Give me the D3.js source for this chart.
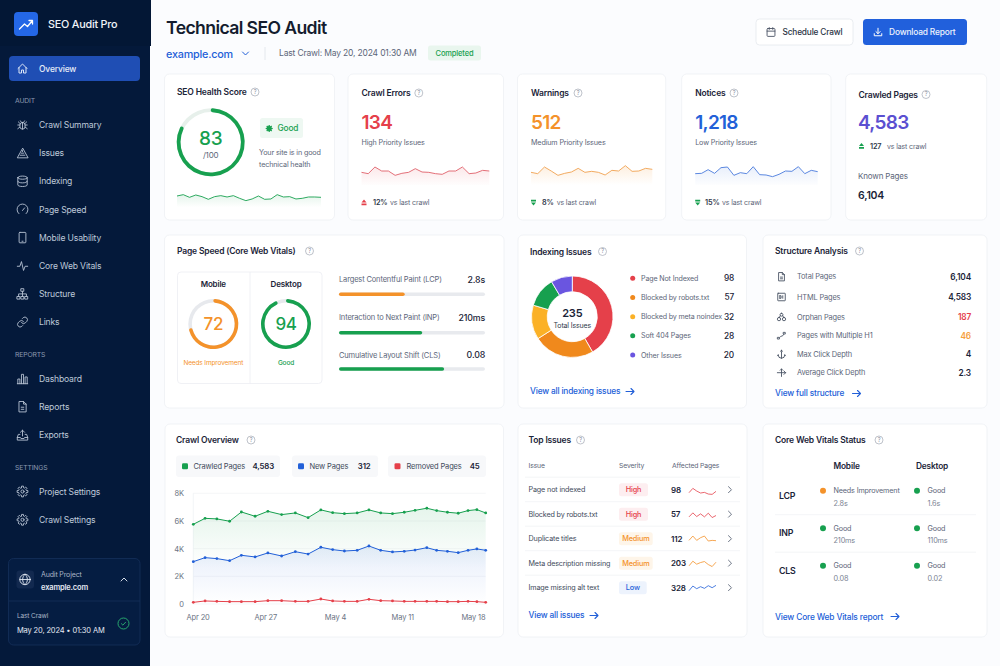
<!DOCTYPE html>
<html>
<head>
<meta charset="utf-8">
<script src="https://cdn.jsdelivr.net/npm/d3@7"></script>
<style>
  html, body { margin: 0; padding: 0; background: #fbfcfe; }
  svg { display: block; font-family: Inter, "Noto Sans", sans-serif; }
  .ic { fill: none; stroke-linecap: round; stroke-linejoin: round; }
</style>
</head>
<body>
<div id="chart"></div>
<script>
// ---- data ----
var navAudit = ["Crawl Summary", "Issues", "Indexing", "Page Speed", "Mobile Usability", "Core Web Vitals", "Structure", "Links"];
var navAuditIcons = ["bug", "warn", "db", "gauge", "phone", "pulse", "tree", "link"];
var navReports = ["Dashboard", "Reports", "Exports"];
var navReportsIcons = ["bars", "file", "export"];
var navSettings = ["Project Settings", "Crawl Settings"];

var healthScore = 83;
var healthSpark = [34, 38, 30, 37, 32, 24, 32, 35, 31, 35, 27, 20, 25, 34, 24, 25, 38, 31, 32, 25, 27, 31, 31, 30];
var errorsSpark = [38, 34, 54, 42, 42, 29, 35, 38, 49, 39, 38, 34, 32, 42, 42, 54, 34, 36, 44, 42];
var warningsSpark = [38, 34, 54, 42, 29, 35, 39, 50, 38, 41, 38, 30, 44, 42, 58, 41, 42, 50, 47];
var noticesSpark = [34, 35, 46, 35, 52, 54, 29, 37, 34, 55, 31, 30, 25, 32, 42, 41, 55, 34, 44, 40];

var speedDevices = ["Mobile", "Desktop"];
var speedScores = [72, 94];
var speedLabels = ["Needs Improvement", "Good"];
var metricNames = ["Largest Contentful Paint (LCP)", "Interaction to Next Paint (INP)", "Cumulative Layout Shift (CLS)"];
var metricValues = ["2.8s", "210ms", "0.08"];
var metricFill = [45, 57, 72];

var indexNames = ["Page Not Indexed", "Blocked by robots.txt", "Blocked by meta noindex", "Soft 404 Pages", "Other Issues"];
var indexCounts = [98, 57, 32, 28, 20];

var structureNames = ["Total Pages", "HTML Pages", "Orphan Pages", "Pages with Multiple H1", "Max Click Depth", "Average Click Depth"];
var structureValues = ["6,104", "4,583", "187", "46", "4", "2.3"];

var crawlDays = [0, 1.2, 2.4, 3.7, 4.9, 6.3, 7.6, 9, 10.4, 11.7, 13, 14.2, 15.4, 16.7, 17.9, 19.1, 20.3, 21.5, 22.6, 23.8, 24.8, 25.9, 27, 28, 28.9, 29.8];
var crawledPages = [5760, 6190, 6150, 5980, 6650, 6340, 6700, 6460, 6580, 6240, 6800, 6600, 6530, 6580, 6800, 6580, 6530, 6630, 6770, 6920, 6750, 6630, 6560, 6750, 6820, 6580];
var newPages = [3060, 3350, 3280, 3130, 3520, 3400, 3690, 3470, 3780, 3610, 4100, 3930, 3830, 3880, 4190, 3880, 3760, 3810, 3900, 4070, 3880, 3810, 3710, 3880, 3980, 3880];
var removedPages = [120, 220, 190, 170, 170, 170, 240, 240, 190, 190, 360, 220, 190, 190, 340, 240, 220, 190, 190, 190, 190, 170, 170, 190, 170, 120];
var crawlTickDays = [0.44, 7.34, 14.44, 21.3, 28.5];
var crawlTickLabels = ["Apr 20", "Apr 27", "May 4", "May 11", "May 18"];
var crawlYTicks = [0, 2000, 4000, 6000, 8000];

var issueNames = ["Page not indexed", "Blocked by robots.txt", "Duplicate titles", "Meta description missing", "Image missing alt text"];
var issueSeverity = ["High", "High", "Medium", "Medium", "Low"];
var issueCounts = [98, 57, 112, 203, 328];
var issueSparks = [
  [6, 19, 11, 5, 7, 2, 1, 10],
  [7, 19, 8, 16, 7, 18, 5, 11],
  [10, 23, 10, 18, 23, 8, 10, 9],
  [7, 21, 12, 17, 20, 11, 5, 18],
  [6, 20, 12, 18, 13, 21, 15, 22]
];

var vitalNames = ["LCP", "INP", "CLS"];
var vitalMobileStatus = ["Needs Improvement", "Good", "Good"];
var vitalMobileValue = ["2.8s", "210ms", "0.08"];
var vitalDesktopStatus = ["Good", "Good", "Good"];
var vitalDesktopValue = ["1.6s", "110ms", "0.02"];

// ---- colours ----
var navy = "#1b2438", grey = "#5c6679", blue = "#2260d8", green = "#17a04f", red = "#e5404a", orange = "#f4922a", purple = "#5b4fd1";
var indexColors = [red, "#f0891c", "#fbb126", green, "#6a55e0"];
var severityColors = { High: [red, "#fdeef0"], Medium: [orange, "#fef5e9"], Low: [blue, "#edf3fd"] };

var svg = d3.select("#chart").append("svg").attr("width", 1000).attr("height", 666);
var defs = svg.append("defs");

function gradient(id, color, top, bottom, endAt) {
  var g = defs.append("linearGradient").attr("id", id).attr("x1", 0).attr("x2", 0).attr("y1", 0).attr("y2", 1);
  g.append("stop").attr("offset", "0%").attr("stop-color", color).attr("stop-opacity", top);
  g.append("stop").attr("offset", (endAt || 100) + "%").attr("stop-color", color).attr("stop-opacity", bottom);
}
gradient("gGreen", green, 0.11, 0);
gradient("gRed", red, 0.12, 0.01);
gradient("gOrange", orange, 0.15, 0);
gradient("gBlue", blue, 0.1, 0.01);
gradient("gAreaGreen", green, 0.11, 0, 62);
gradient("gAreaBlue", blue, 0.11, 0, 100);

// text helper, y is the vertical centre of the text
function label(p, x, y, str, o) {
  o = o || {};
  return p.append("text")
    .attr("x", x).attr("y", y).attr("dy", "0.36em")
    .attr("font-size", o.size || 8)
    .attr("font-weight", o.weight || 400)
    .attr("fill", o.fill || grey)
    .attr("text-anchor", o.anchor || "start")
    .attr("letter-spacing", o.ls || "-0.02em")
    .text(str);
}

function gearPath() {
  var pts = [];
  for (var i = 0; i < 8; i++) {
    var a = i * Math.PI / 4;
    [[-0.26, 7.6], [-0.17, 10.5], [0.17, 10.5], [0.26, 7.6]].forEach(function(q) {
      pts.push([12 + q[1] * Math.sin(a + q[0]), 12 - q[1] * Math.cos(a + q[0])]);
    });
  }
  return d3.line().curve(d3.curveLinearClosed)(pts);
}

var iconPaths = {
  home: "M3 12 12 3l9 9M5 10v11h5v-6h4v6h5V10",
  bug: "M8 4l2 3M16 4l-2 3M12 7a5 5 0 0 0-5 5v3a5 5 0 0 0 10 0v-3a5 5 0 0 0-5-5zM12 7v13M7 12H3M17 12h4M7 16l-4 3M17 16l4 3M7 9 4 6M17 9l3-3",
  warn: "M12 3 2 21h20zM7.5 16h9M9.5 12h5M12 7v2",
  db: "M3 5c0-1.7 4-3 9-3s9 1.3 9 3-4 3-9 3-9-1.3-9-3zM3 5v14c0 1.7 4 3 9 3s9-1.3 9-3V5M3 12c0 1.7 4 3 9 3s9-1.3 9-3",
  gauge: "M5 20a10.5 10.5 0 1 1 14 0M12 14l4-5",
  phone: "M7 2h10a1.5 1.5 0 0 1 1.500 1.500v17a1.500 1.500 0 0 1-1.500 1.500H7a1.500 1.500 0 0 1-1.500-1.500v-17A1.500 1.500 0 0 1 7 2zM11 19h2",
  pulse: "M2 13h5l3-9 4 17 3-8h5",
  tree: "M9.500 2h5v5h-5zM2 17h5v5H2zM9.500 17h5v5h-5zM17 17h5v5h-5zM12 7v10M4.500 17v-5h15v5",
  link: "M10 13a5 5 0 0 0 7.500.5l3-3a5 5 0 0 0-7-7l-1.700 1.700M14 11a5 5 0 0 0-7.500-.5l-3 3a5 5 0 0 0 7 7l1.700-1.700",
  bars: "M2 22h20M3 22v-9h4v9M10 22V4h4v18M17 22V9h4v13",
  file: "M6 2h8l5 5v15H6zM14 2v5h5M9.500 13h5M9.500 17h5",
  export: "M12 14V3M8 7l4-4 4 4M7 11H4l-2 6v5h20v-5l-2-6h-3M2 17h6l1 2h6l1-2h6",
  gear: gearPath() + "M15 12a3 3 0 1 1-6 0 3 3 0 0 1 6 0z",
  globe: "M22 12a10 10 0 1 1-20 0 10 10 0 0 1 20 0zM2 12h20M12 2c3 3 4.500 6 4.500 10S15 19 12 22c-3-3-4.500-6-4.500-10S9 5 12 2z",
  calendar: "M5 4h14a2 2 0 0 1 2 2v14a2 2 0 0 1-2 2H5a2 2 0 0 1-2-2V6a2 2 0 0 1 2-2zM3 10h18M8 2v4M16 2v4",
  download: "M12 3v13M7 11l5 5 5-5M3 16v5h18v-5",
  check: "M7 12.500l3.500 3.500L17 9",
  html: "M4 3h16a1 1 0 0 1 1 1v16a1 1 0 0 1-1 1H4a1 1 0 0 1-1-1V4a1 1 0 0 1 1-1zM8 9v6M8 9h3v6H8M15 9v6",
  orphan: "M12 3a3.500 3.500 0 1 0 0 7 3.500 3.500 0 0 0 0-7zM6 13a4 4 0 1 0 0 8 4 4 0 0 0 0-8zM18 13a4 4 0 1 0 0 8 4 4 0 0 0 0-8zM9 9l-2 4M15 9l2 4",
  multi: "M3 20h4v-4H3zM17 8h4V4h-4zM8 16l3-3h3l3-4",
  depth: "M12 2a2 2 0 1 0 0 4 2 2 0 0 0 0-4zM12 6v15M4 13a8 8 0 0 0 16 0M4 13l-1.500 2M20 13l1.500 2",
  cross: "M2 12h20M18 8l4 4-4 4M12 3v18M9 6l3-3 3 3"
};

function icon(p, name, cx, cy, size, color, sw) {
  return p.append("path").attr("class", "ic")
    .attr("transform", "translate(" + (cx - size / 2) + "," + (cy - size / 2) + ") scale(" + size / 24 + ")")
    .attr("d", iconPaths[name]).attr("stroke", color).attr("stroke-width", (sw || 1) * 24 / size);
}

function help(p, cx, cy) {
  p.append("circle").attr("cx", cx).attr("cy", cy).attr("r", 4).attr("fill", "none").attr("stroke", "#a3a9b5").attr("stroke-width", 0.7);
  label(p, cx, cy, "?", { size: 5.5, fill: "#8b92a0", anchor: "middle" });
}

function arrow(p, x, y, color) {
  p.append("path").attr("class", "ic").attr("stroke", color).attr("stroke-width", 1.1)
    .attr("d", "M" + (x - 4) + " " + y + "h8m-3-3 3 3-3 3");
}

function chevron(p, x, y, color, dir) {
  var d = { right: "m-1.500-3 3 3-3 3", down: "m-3-1.500 3 3 3-3", up: "m-3 1.500 3-3 3 3" }[dir];
  p.append("path").attr("class", "ic").attr("stroke", color).attr("stroke-width", 1).attr("d", "M" + x + " " + y + d);
}

function card(x0, y0, x1, y1) {
  return svg.append("rect").attr("x", x0).attr("y", y0).attr("width", x1 - x0).attr("height", y1 - y0).attr("rx", 5)
    .attr("fill", "#fff").attr("stroke", "#eef0f4").attr("stroke-width", 0.8);
}

function cardTitle(x, y, str, helpX) {
  label(svg, x, y, str, { size: 8.500, weight: 600, fill: navy });
  help(svg, helpX, y);
}

function spark(p, values, x0, x1, yBottom, yTop, domainMax, color, fillId, sw) {
  var x = d3.scaleLinear().domain([0, values.length - 1]).range([x0, x1]);
  var y = d3.scaleLinear().domain([0, domainMax]).range([yBottom, yTop]);
  if (fillId) {
    p.append("path").attr("fill", "url(#" + fillId + ")")
      .attr("d", d3.area().x(function(d, i) { return x(i); }).y0(yBottom).y1(function(d) { return y(d); })(values));
  }
  p.append("path").attr("fill", "none").attr("stroke", color).attr("stroke-width", sw || 0.9).attr("stroke-linejoin", "round")
    .attr("d", d3.line().x(function(d, i) { return x(i); }).y(function(d) { return y(d); })(values));
}

function gauge(p, cx, cy, r, w, value, color, track) {
  var angle = d3.scaleLinear().domain([0, 100]).range([0, 2 * Math.PI]);
  var g = p.append("g").attr("transform", "translate(" + cx + "," + cy + ")");
  var arc = d3.arc().innerRadius(r - w).outerRadius(r);
  g.append("path").attr("fill", track).attr("d", arc({ startAngle: 0, endAngle: 2 * Math.PI }));
  g.append("path").attr("fill", color).attr("d", arc.cornerRadius(w / 2)({ startAngle: 0, endAngle: angle(value) }));
}

// ---- sidebar ----
svg.append("rect").attr("width", 150).attr("height", 666).attr("fill", "#04193a");
svg.append("rect").attr("width", 151).attr("height", 46).attr("fill", "#031735");
svg.append("rect").attr("x", 14).attr("y", 12).attr("width", 24).attr("height", 24).attr("rx", 4).attr("fill", "#2467e6");
svg.append("path").attr("class", "ic").attr("stroke", "#fff").attr("stroke-width", 1.3)
  .attr("d", "M19.500 29l5-5 3 2.500 5-6m-3.500 0h3.500v3.500");
label(svg, 48, 24.500, "SEO Audit Pro", { size: 10.800, weight: 500, fill: "#f1f4f9" });

svg.append("rect").attr("x", 9).attr("y", 56).attr("width", 131).attr("height", 25).attr("rx", 4).attr("fill", "#1f4eb4");
icon(svg, "home", 22.500, 68.500, 12, "#dbe5f7", 1);
label(svg, 39, 68.800, "Overview", { size: 8.500, weight: 500, fill: "#e6ecf7" });

function navGroup(title, titleY, items, icons, startY, step) {
  label(svg, 15, titleY, title, { size: 6.800, fill: "#8c9ab0" });
  items.forEach(function(item, i) {
    var y = startY + i * step;
    icon(svg, icons[i], 22.500, y, 12.500, "#b8c3d4", 0.9);
    label(svg, 39, y, item, { size: 8.600, fill: "#bfc9d9" });
  });
}
navGroup("AUDIT", 101, navAudit, navAuditIcons, 125, 28.150);
navGroup("REPORTS", 354.500, navReports, navReportsIcons, 378.500, 28.200);
navGroup("SETTINGS", 467.500, navSettings, ["gear", "gear"], 491.500, 28.300);

svg.append("rect").attr("x", 8.500).attr("y", 558.500).attr("width", 131.500).attr("height", 86.500).attr("rx", 5)
  .attr("fill", "#051d42").attr("stroke", "#15305a").attr("stroke-width", 0.8);
svg.append("line").attr("x1", 9).attr("x2", 140).attr("y1", 601).attr("y2", 601).attr("stroke", "#15305a").attr("stroke-width", 0.8);
svg.append("rect").attr("x", 16.500).attr("y", 570.500).attr("width", 17.500).attr("height", 18).attr("rx", 3).attr("fill", "#12294f");
icon(svg, "globe", 25, 579.500, 12.500, "#e0e6f0", 0.9);
label(svg, 41, 574.800, "Audit Project", { size: 7, fill: "#aab6c8" });
label(svg, 41, 587, "example.com", { size: 7.500, weight: 600, fill: "#e4e9f2" });
chevron(svg, 124, 579.500, "#d3dae6", "up");
label(svg, 17, 615.500, "Last Crawl", { size: 6.500, fill: "#aab6c8" });
label(svg, 17, 630, "May 20, 2024  \u2022  01:30 AM", { size: 7.500, fill: "#e4e9f2" });
svg.append("circle").attr("cx", 123.500).attr("cy", 623.500).attr("r", 5.500).attr("fill", "none").attr("stroke", "#2bb673").attr("stroke-width", 0.9);
icon(svg, "check", 123.500, 623.500, 10, "#2bb673", 0.9);

// ---- header ----
label(svg, 166, 28, "Technical SEO Audit", { size: 17.600, weight: 600, fill: "#141c2e", ls: "-0.6" });
label(svg, 166, 54, "example.com", { size: 10.800, weight: 500, fill: blue, ls: "-0.2" });
chevron(svg, 245.500, 53.500, blue, "down");
svg.append("line").attr("x1", 265).attr("x2", 265).attr("y1", 47).attr("y2", 60).attr("stroke", "#dfe3ea").attr("stroke-width", 0.8);
label(svg, 279, 53, "Last Crawl: May 20, 2024 01:30 AM", { size: 8.500 });
svg.append("rect").attr("x", 428).attr("y", 45.500).attr("width", 53).attr("height", 15).attr("rx", 2.500).attr("fill", "#e9f6ee");
label(svg, 454.500, 53, "Completed", { size: 7.500, weight: 500, fill: green, anchor: "middle" });

svg.append("rect").attr("x", 756).attr("y", 19).attr("width", 97).attr("height", 26).attr("rx", 3.500).attr("fill", "#fff").attr("stroke", "#e5e8ee").attr("stroke-width", 0.8);
icon(svg, "calendar", 771, 32, 10.500, "#4c5566", 0.9);
label(svg, 782.500, 32, "Schedule Crawl", { size: 8.300, weight: 500, fill: "#2b3445" });
svg.append("rect").attr("x", 863).attr("y", 19).attr("width", 104).attr("height", 26).attr("rx", 3.500).attr("fill", "#2160dc");
icon(svg, "download", 878, 32, 10, "#fff", 1);
label(svg, 889, 32, "Download Report", { size: 8.400, weight: 500, fill: "#eef3fd" });

// ---- row 1 ----
card(164.500, 74, 334.500, 220);
cardTitle(177, 92, "SEO Health Score", 255);
gauge(svg, 210.700, 142.300, 34, 3.800, healthScore, green, "#e7f0eb");
label(svg, 210.700, 138.500, healthScore, { size: 19, weight: 500, fill: green, anchor: "middle", ls: "-0.3" });
label(svg, 210.700, 154.800, "/100", { size: 8, anchor: "middle" });
svg.append("rect").attr("x", 260).attr("y", 118).attr("width", 43).attr("height", 20).attr("rx", 2.500).attr("fill", "#eef8f2");
svg.append("path").attr("fill", green).attr("transform", "translate(269.200,128.500) scale(0.34) translate(-12,-12)").attr("d", gearPath());
label(svg, 277.500, 128.500, "Good", { size: 8.300, weight: 500, fill: green });
label(svg, 259, 152.500, "Your site is in good", { size: 7.200 });
label(svg, 259, 164.500, "technical health", { size: 7.200 });
spark(svg, healthSpark, 177, 321, 207.300, 190, 52, green, "gGreen", 0.9);

function delta(tx, ay, up, color, deltaText, deltaTextX, vsX) {
  svg.append("path").attr("fill", color).attr("d", up
    ? "M" + (tx + 2.500) + " " + (ay - 3) + "l2.500 3h-5zM" + tx + " " + (ay + 1) + "h5v1.800h-5z"
    : "M" + (tx + 2.500) + " " + (ay + 3) + "l2.500 -3h-5zM" + tx + " " + (ay - 1) + "h5v-1.800h-5z");
  label(svg, deltaTextX, ay, deltaText, { size: 7.300, weight: 600, fill: "#30394a" });
  label(svg, vsX, ay, "vs last crawl", { size: 7 });
}

function statCard(x0, x1, title, helpX, value, color, sub, values, sparkColor, fillId, sparkX1, deltaText, deltaColor, up, deltaTextX, vsX) {
  card(x0, 74, x1, 220);
  var tx = x0 + 13.500;
  cardTitle(tx, 93, title, helpX);
  label(svg, tx, 122, value, { size: 19, weight: 600, fill: color, ls: "-0.7" });
  label(svg, tx, 142.500, sub, { size: 7.200 });
  spark(svg, values, tx, sparkX1, 185, 165, 60, sparkColor, fillId, 0.9);
  delta(tx, 202.500, up, deltaColor, deltaText, deltaTextX, vsX);
}
statCard(348, 503.500, "Crawl Errors", 418.800, "134", red, "High Priority Issues", errorsSpark, "#e0606a", "gRed", 489.300, "12%", red, true, 373, 390);
statCard(517.500, 665.700, "Warnings", 578, "512", orange, "Medium Priority Issues", warningsSpark, "#f0a250", "gOrange", 652.300, "8%", green, false, 542, 556.700);
statCard(681.700, 831, "Notices", 734, "1,218", blue, "Low Priority Issues", noticesSpark, "#4a7bdc", "gBlue", 817.700, "15%", green, false, 705, 722);

card(845.700, 74, 986.700, 220);
cardTitle(858.500, 94.500, "Crawled Pages", 926);
label(svg, 858, 122, "4,583", { size: 19, weight: 600, fill: purple, ls: "-0.7" });
delta(859, 146, true, green, "127", 870, 887);
label(svg, 858, 175.700, "Known Pages", { size: 8 });
label(svg, 858, 195.700, "6,104", { size: 10.500, weight: 600, fill: navy });

// ---- row 2: page speed ----
card(164.500, 235, 504, 408);
cardTitle(177, 251, "Page Speed (Core Web Vitals)", 309.500);
svg.append("rect").attr("x", 177.500).attr("y", 272).attr("width", 144.500).attr("height", 111.500).attr("rx", 3.500).attr("fill", "#fff").attr("stroke", "#eceef2").attr("stroke-width", 0.8);
svg.append("line").attr("x1", 250).attr("x2", 250).attr("y1", 272).attr("y2", 383.500).attr("stroke", "#eceef2").attr("stroke-width", 0.8);
speedDevices.forEach(function(dev, i) {
  var cx = i == 0 ? 213.300 : 286;
  var color = speedScores[i] < 90 ? orange : green;
  label(svg, cx, 284, dev, { size: 8, weight: 600, fill: navy, anchor: "middle" });
  gauge(svg, cx, 324, 25, 3.600, speedScores[i], color, "#e7e9ed");
  label(svg, cx, 324, speedScores[i], { size: 17, weight: 500, fill: color, anchor: "middle" });
  label(svg, cx, 363, speedLabels[i], { size: 6.500, weight: i == 0 ? 400 : 500, fill: color, anchor: "middle" });
});
var metricX = d3.scaleLinear().domain([0, 100]).range([339, 485]);
metricNames.forEach(function(name, i) {
  var ly = [279.500, 317.500, 355][i], by = [294.200, 332.700, 369][i];
  label(svg, metricX(0), ly, name, { size: 7.500 });
  label(svg, metricX(100), ly, metricValues[i], { size: 8.800, weight: 500, fill: navy, anchor: "end" });
  svg.append("rect").attr("x", metricX(0)).attr("y", by - 1.800).attr("width", metricX(100) - metricX(0)).attr("height", 3.600).attr("rx", 1.800).attr("fill", "#e8eaee");
  svg.append("rect").attr("x", metricX(0)).attr("y", by - 1.800).attr("width", metricX(metricFill[i]) - metricX(0)).attr("height", 3.600).attr("rx", 1.800).attr("fill", i == 0 ? orange : green);
});

// ---- row 2: indexing donut ----
card(518, 235, 746.500, 408);
cardTitle(530, 251.500, "Indexing Issues", 602.500);
var donut = svg.append("g").attr("transform", "translate(572.300,316.700)");
var pie = d3.pie().sort(null);
var donutArc = d3.arc().innerRadius(25).outerRadius(40.700);
donut.selectAll("path").data(pie(indexCounts)).enter().append("path")
  .attr("d", donutArc)
  .attr("fill", function(d, i) { return indexColors[i]; })
  .attr("stroke", "#fff").attr("stroke-width", 0.8);
label(svg, 572.300, 313, d3.sum(indexCounts), { size: 11, weight: 600, fill: navy, anchor: "middle" });
label(svg, 572.300, 325, "Total Issues", { size: 7, fill: "#30394a", anchor: "middle" });
var legendY = d3.scalePoint().domain(d3.range(indexNames.length)).range([278.300, 355]);
indexNames.forEach(function(name, i) {
  svg.append("circle").attr("cx", 632.700).attr("cy", legendY(i)).attr("r", 2.500).attr("fill", indexColors[i]);
  label(svg, 641, legendY(i), name, { size: 7.100 });
  label(svg, 734, legendY(i), indexCounts[i], { size: 8.300, weight: 500, fill: navy, anchor: "end" });
});
label(svg, 530, 391.500, "View all indexing issues", { size: 8.300, weight: 500, fill: blue });
arrow(svg, 630, 391.500, blue);

// ---- row 2: structure ----
card(763, 235, 987, 408);
cardTitle(775, 251, "Structure Analysis", 859.500);
var structureY = [276.700, 297, 317, 335.700, 354.500, 372.700];
var structureIcons = ["file", "html", "orphan", "multi", "depth", "cross"];
structureNames.forEach(function(name, i) {
  icon(svg, structureIcons[i], 781.500, structureY[i], 10, "#4a5364", 0.9);
  label(svg, 797, structureY[i], name, { size: 7.400 });
  label(svg, 971, structureY[i], structureValues[i], { size: 8.300, weight: 600, fill: i == 2 ? red : i == 3 ? "#f5a040" : navy, anchor: "end" });
});
label(svg, 775, 393.500, "View full structure", { size: 8.300, weight: 500, fill: blue });
arrow(svg, 856.500, 393.500, blue);

// ---- row 3: crawl overview ----
card(165, 424, 503.500, 637);
cardTitle(176, 440, "Crawl Overview", 251);
function pill(x0, x1, color, name, value, dotX, textX, valueX) {
  svg.append("rect").attr("x", x0).attr("y", 455.500).attr("width", x1 - x0).attr("height", 21.500).attr("rx", 3).attr("fill", "#f7f8fa");
  svg.append("rect").attr("x", dotX - 3).attr("y", 463.300).attr("width", 6).attr("height", 6).attr("rx", 1.300).attr("fill", color);
  label(svg, textX, 466.300, name, { size: 7.500, fill: "#414a5b" });
  label(svg, valueX, 466.300, value, { size: 7.800, weight: 600, fill: navy, anchor: "end" });
}
pill(176, 280, green, "Crawled Pages", "4,583", 185, 193.500, 274);
pill(292, 378, blue, "New Pages", "312", 301, 309.500, 370.500);
pill(388, 486, red, "Removed Pages", "45", 397.500, 406.500, 479.500);

var plotX = d3.scaleLinear().domain([0, 29.8]).range([193.300, 485.700]);
var plotY = d3.scaleLinear().domain([0, 8000]).range([604, 493.300]);
var plot = svg.append("g");
plot.selectAll(".grid").data(crawlYTicks).enter().append("line")
  .attr("x1", plotX(0)).attr("x2", plotX(29.8))
  .attr("y1", function(d) { return plotY(d); }).attr("y2", function(d) { return plotY(d); })
  .attr("stroke", "#f0f2f5").attr("stroke-width", 0.7);
plot.append("line").attr("x1", plotX(0)).attr("x2", plotX(0)).attr("y1", plotY(8000)).attr("y2", plotY(0)).attr("stroke", "#eef0f3").attr("stroke-width", 0.7);

var yAxis = d3.axisLeft(plotY).tickValues(crawlYTicks).tickSize(0).tickPadding(9.500)
  .tickFormat(function(d) { return d == 0 ? "0" : d / 1000 + "K"; });
var xAxis = d3.axisBottom(plotX).tickValues(crawlTickDays).tickSize(0).tickPadding(11)
  .tickFormat(function(d, i) { return crawlTickLabels[i]; });
svg.append("g").attr("transform", "translate(193.300,0)").call(yAxis).call(styleAxis);
svg.append("g").attr("transform", "translate(0,604)").call(xAxis).call(styleAxis);
function styleAxis(g) {
  g.select(".domain").remove();
  g.selectAll("text").attr("font-family", 'Inter, "Noto Sans", sans-serif').attr("font-size", 7.500).attr("letter-spacing", "-0.02em").attr("fill", "#6b7484");
}

function crawlSeries(values, color, fillId) {
  if (fillId) {
    plot.append("path").attr("fill", "url(#" + fillId + ")")
      .attr("d", d3.area().x(function(d, i) { return plotX(crawlDays[i]); }).y0(plotY(0)).y1(function(d) { return plotY(d); })(values));
  }
  plot.append("path").attr("fill", "none").attr("stroke", color).attr("stroke-width", 1)
    .attr("d", d3.line().x(function(d, i) { return plotX(crawlDays[i]); }).y(function(d) { return plotY(d); })(values));
  plot.selectAll(null).data(values).enter().append("circle")
    .attr("cx", function(d, i) { return plotX(crawlDays[i]); })
    .attr("cy", function(d) { return plotY(d); })
    .attr("r", 1.400).attr("fill", color);
}
crawlSeries(crawledPages, green, "gAreaGreen");
crawlSeries(newPages, blue, "gAreaBlue");
crawlSeries(removedPages, red, null);

// ---- row 3: top issues ----
card(518, 424, 747, 637);
cardTitle(528.500, 440, "Top Issues", 580.500);
label(svg, 528.500, 465.500, "Issue", { size: 6.800 });
label(svg, 619, 465.500, "Severity", { size: 6.800 });
label(svg, 672, 465.500, "Affected Pages", { size: 6.800 });
var issueY = d3.scalePoint().domain(d3.range(issueNames.length)).range([489.700, 587.700]);
var badgeWidth = { High: 29, Medium: 33.700, Low: 27.700 };
issueNames.forEach(function(name, i) {
  var y = issueY(i), sev = issueSeverity[i], sc = severityColors[sev];
  svg.append("line").attr("x1", 525).attr("x2", 740).attr("y1", y - 12.500).attr("y2", y - 12.500).attr("stroke", "#f0f2f5").attr("stroke-width", 0.8);
  label(svg, 528.500, y, name, { size: 7.200, fill: "#414a5b" });
  svg.append("rect").attr("x", 619).attr("y", y - 6.500).attr("width", badgeWidth[sev]).attr("height", 13).attr("rx", 2.500).attr("fill", sc[1]);
  label(svg, 619 + badgeWidth[sev] / 2, y, sev, { size: 7.300, weight: 500, fill: sc[0], anchor: "middle" });
  label(svg, 671, y, issueCounts[i], { size: 8, weight: 600, fill: navy });
  spark(svg, issueSparks[i], 689, 716, y + 5, y - 5, 30, sc[0], null, 0.8);
  chevron(svg, 730, y, "#6b7484", "right");
});
label(svg, 528.500, 615.500, "View all issues", { size: 8.300, weight: 500, fill: blue });
arrow(svg, 594, 615.500, blue);

// ---- row 3: core web vitals ----
card(763, 424, 987, 637);
cardTitle(775, 440, "Core Web Vitals Status", 879);
label(svg, 833.500, 466, "Mobile", { size: 8.300, weight: 600, fill: navy });
label(svg, 916, 466, "Desktop", { size: 8.300, weight: 600, fill: navy });
var vitalY = d3.scalePoint().domain(d3.range(vitalNames.length)).range([490.700, 565.700]);
vitalNames.forEach(function(name, i) {
  var y = vitalY(i);
  if (i > 0) svg.append("line").attr("x1", 775).attr("x2", 976).attr("y1", y - 13.500).attr("y2", y - 13.500).attr("stroke", "#f0f2f5").attr("stroke-width", 0.8);
  label(svg, 779, y + 5, name, { size: 8.800, weight: 600, fill: navy });
  svg.append("circle").attr("cx", 823).attr("cy", y).attr("r", 3).attr("fill", vitalMobileStatus[i] == "Good" ? green : orange);
  label(svg, 833.500, y, vitalMobileStatus[i], { size: 7.200 });
  label(svg, 833.500, y + 12.300, vitalMobileValue[i], { size: 7.300, fill: "#7b8494" });
  svg.append("circle").attr("cx", 917).attr("cy", y).attr("r", 3).attr("fill", vitalDesktopStatus[i] == "Good" ? green : orange);
  label(svg, 927.500, y, vitalDesktopStatus[i], { size: 7.200 });
  label(svg, 927.500, y + 12.300, vitalDesktopValue[i], { size: 7.300, fill: "#7b8494" });
});
label(svg, 775, 616.500, "View Core Web Vitals report", { size: 8.400, weight: 500, fill: blue });
arrow(svg, 895, 616.500, blue);
</script>
</body>
</html>
